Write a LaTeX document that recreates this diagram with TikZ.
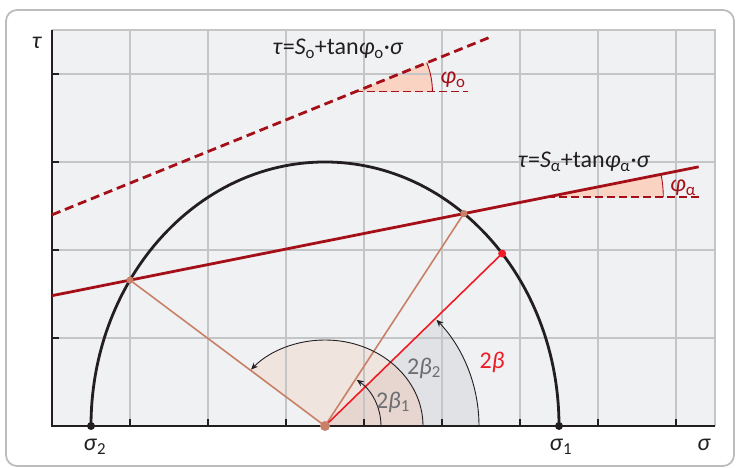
\documentclass[tikz,border=0pt]{standalone}
\usepackage{fontspec}
\setmainfont{Carlito}
\usetikzlibrary{arrows.meta}
\definecolor{axblack}{HTML}{231F20}
\definecolor{framegray}{HTML}{BDBDBD}
\definecolor{plotbg}{HTML}{F0F1F3}
\definecolor{gridc}{HTML}{C4C5C7}
\definecolor{darkred}{HTML}{A50F18}
\definecolor{brightred}{HTML}{EE1C25}
\definecolor{brownl}{HTML}{C88068}
\definecolor{wedgepink}{HTML}{FBD3C3}
\definecolor{pinkfill}{HTML}{F0E4DF}
\definecolor{greyfill}{HTML}{E0E2E5}
\definecolor{darkpink}{HTML}{E6D6CF}
\definecolor{labgray}{HTML}{6D6E71}
\tikzset{
  lab/.style={font=\fontsize{24}{26}\selectfont, inner sep=0pt, text=axblack},
  gridline/.style={gridc, line width=1.3pt},
  axisline/.style={axblack, line width=1.8pt},
  mohr/.style={axblack, line width=2.8pt},
  failline/.style={darkred, line width=2.8pt},
  faildash/.style={darkred, line width=2.8pt, dash pattern=on 9pt off 5pt},
  hordash/.style={darkred, line width=1.6pt, dash pattern=on 8pt off 4pt},
  brownline/.style={brownl, line width=1.6pt},
  redline/.style={brightred, line width=1.6pt},
  anglearc/.style={axblack, line width=0.9pt, -{Stealth[length=7pt,width=6pt]}},
  wedgearc/.style={darkred, line width=0.9pt},
}
\newcommand{\itx}[1]{\textit{#1}}
\begin{document}
\begin{tikzpicture}[x=1pt,y=1pt]
\useasboundingbox (0,0) rectangle (737,468);
\draw[framegray, line width=1.8pt, rounded corners=11pt] (6,2) rectangle (734,458);
\begin{scope}[shift={(52,42)}, x=78pt, y=88pt]
  \coordinate (O) at (0,0);
  \coordinate (TL) at (0,4.5);
  \coordinate (BR) at (8.5,0);
  \coordinate (TR) at (8.5,4.5);
  \coordinate (P) at (3.5,0);
  \coordinate (S1) at (6.5,0);
  \coordinate (S2) at (0.5,0);
  \coordinate (A) at (1,1.658);
  \coordinate (B) at (5.280,2.414);
  \coordinate (R) at (5.771,1.960);
  \coordinate (Lo1) at (0,2.40);
  \coordinate (Lo2) at (5.62,4.42);
  \coordinate (Co) at (3.89,3.80);
  \coordinate (Ho) at (5.33,3.80);
  \coordinate (La1) at (0,1.481);
  \coordinate (La2) at (8.29,2.945);
  \coordinate (Ca) at (6.35,2.602);
  \coordinate (Ha) at (8.31,2.602);
  % background
  \fill[plotbg] (O) rectangle (TR);
  % sector fills
  \fill[pinkfill] (P) -- ++(98pt,0) arc[start angle=0,end angle=139.6,x radius=98pt,y radius=86pt] -- cycle;
  \fill[greyfill] (P) -- ++(154pt,0) arc[start angle=0,end angle=44.25,radius=154pt] -- cycle;
  \fill[darkpink] (P) -- ++(98pt,0) arc[start angle=0,end angle=47.98,x radius=98pt,y radius=86pt] -- cycle;
  % angle wedges
  \fill[wedgepink] (Co) -- ++(77pt,0) arc[start angle=0,end angle=22.1,radius=77pt] -- cycle;
  \fill[wedgepink] (Ca) -- ++(116pt,0) arc[start angle=0,end angle=11.25,radius=116pt] -- cycle;
  % grid
  \foreach \u in {1,...,8} \draw[gridline] (\u,0) -- (\u,4.5);
  \foreach \v in {1,...,4} \draw[gridline] (0,\v) -- (8.5,\v);
  \draw[gridline] (TL) -- (TR) -- (BR);
  % axes and ticks
  \draw[axisline] (TL) -- (O) -- (BR);
  \foreach \u in {1,...,8} \draw[axisline] (\u,0) -- ++(0,7pt);
  \foreach \v in {1,...,4} \draw[axisline] (0,\v) -- ++(7pt,0);
  % Mohr circle
  \draw[mohr] (S1) arc[start angle=0,end angle=180,radius=3];
  % failure lines
  \draw[faildash] (Lo1) -- (Lo2);
  \draw[hordash] (Co) -- (Ho);
  \draw[wedgearc] (Co) ++(77pt,0) arc[start angle=0,end angle=22.1,radius=77pt];
  \draw[failline] (La1) -- (La2);
  \draw[hordash] (Ca) -- (Ha);
  \draw[wedgearc] (Ca) ++(116pt,0) arc[start angle=0,end angle=11.25,radius=116pt];
  % radii
  \draw[brownline] (P) -- (A);
  \draw[brownline] (P) -- (B);
  \draw[redline] (P) -- (R);
  % angle arcs
  \draw[anglearc] (P) ++(154pt,0) arc[start angle=0,end angle=43.6,radius=154pt];
  \draw[anglearc] (P) ++(98pt,0) arc[start angle=0,end angle=139.0,x radius=98pt,y radius=86pt];
  \draw[anglearc] (P) ++(56pt,0) arc[start angle=0,end angle=55.5,radius=56pt];
  % dots
  \fill[axblack] (S1) circle[radius=4pt];
  \fill[axblack] (S2) circle[radius=4pt];
  \fill[brownl] (A) circle[radius=3.6pt];
  \fill[brownl] (B) circle[radius=3.6pt];
  \fill[brownl] (P) circle[radius=5pt];
  \fill[brightred] (R) circle[radius=4pt];
\end{scope}
% labels
\node[lab] (ltau) at (37,425) {\itx{τ}};
\node[lab] (lsig) at (704,23) {\itx{σ}};
\node[lab] (ls2) at (95,21) {\itx{σ}\textsubscript{2}};
\node[lab] (ls1) at (561,21) {\itx{σ}\textsubscript{1}};
\node[lab] (lfo) at (338,419) {\itx{τ}=\itx{S}\textsubscript{o}+tan\itx{φ}\textsubscript{o}·\itx{σ}};
\node[lab] (lfa) at (584,306) {\itx{τ}=\itx{S}\textsubscript{α}+tan\itx{φ}\textsubscript{α}·\itx{σ}};
\node[lab, text=darkred] (lpo) at (453,388) {\itx{φ}\textsubscript{o}};
\node[lab, text=darkred] (lpa) at (683,280) {\itx{φ}\textsubscript{α}};
\node[lab, text=brightred] (l2b) at (492,106) {2\itx{β}};
\node[lab, text=labgray] (l2b2) at (424,100) {2\itx{β}\textsubscript{2}};
\node[lab, text=labgray] (l2b1) at (393,66) {2\itx{β}\textsubscript{1}};
\end{tikzpicture}
\end{document}
